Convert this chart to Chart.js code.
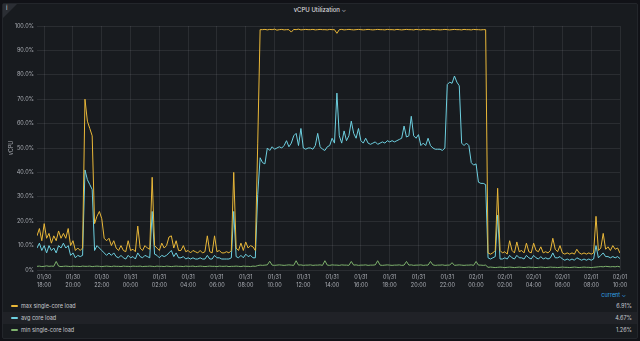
<!DOCTYPE html>
<html>
<head>
<meta charset="utf-8">
<script src="https://cdn.jsdelivr.net/npm/chart.js@4.4.1/dist/chart.umd.min.js"></script>
<style>
  html, body { margin: 0; padding: 0; width: 640px; height: 341px; overflow: hidden;
    background: #111217; font-family: Inter, "Noto Sans", sans-serif; }
  #panel { position: absolute; left: 2px; top: 3px; width: 634px; height: 334px;
    background: #181b1f; border: 1px solid #23262b; border-radius: 2px; }
  #corner { position: absolute; left: 3px; top: 4px; width: 0; height: 0;
    border-top: 14px solid #2b2e34; border-right: 14px solid transparent; }
  #corner-i { position: absolute; left: 6px; top: 4px; font-size: 6px; color: #d8d9dc; }
  #title { position: absolute; left: 0; top: 6px; width: 640px; text-align: center;
    font-size: 6px; font-weight: 500; color: #d8d9dc; }
  #title span { color: #9fa2a8; font-size: 6px; }
  #wrap { position: absolute; left: 0; top: 0; width: 640px; height: 292px; }
  #legend-head { position: absolute; right: 14px; top: 292px; font-size: 5.5px; color: #33a2e5; }
  .row { position: absolute; left: 3px; width: 634px; height: 12px; font-size: 5.5px;
    color: #c7c9ce; line-height: 12px; }
  .row.alt { background: #202227; }
  .sw { position: absolute; left: 8px; top: 5px; width: 7px; height: 2px; border-radius: 1px; }
  .name { position: absolute; left: 18px; }
  .val { position: absolute; right: 5px; }
</style>
</head>
<body>
<div id="panel"></div>
<div id="corner"></div>
<div id="corner-i">i</div>
<div id="title">vCPU Utilization <span>&#8964;</span></div>
<div id="wrap"><canvas id="chart" width="640" height="292"></canvas></div>
<div id="legend-head">current &#8964;</div>
<div id="legend"></div>
<script>
// 10-minute samples, starting 01/30 17:30 (hours since 01/30 00:00)
const START_HOUR = 17.5;
const STEP_HOURS = 1 / 6;

const SERIES_NAMES = ["max single-core load", "avg core load", "min single-core load"];
const SERIES_COLORS = ["#EAB839", "#6ED0E0", "#7EB26D"];

const MAX_LOAD = [
  14, 17, 12, 19, 13, 15,   11, 14, 12, 16, 13, 15,   13, 17, 10, 12, 8, 9,
  8, 9, 70, 61, 58, 55,     19, 22, 24, 21, 13, 12,   13, 10, 12, 9, 8, 10,
  8, 7.5, 12, 8, 8.5, 7.5,  18, 9, 8, 10, 9, 8.5,     38, 10, 9, 8, 11, 9,
  10, 13.5, 14, 9, 12, 8,   8, 10, 7.5, 8, 7, 8,      7.5, 7, 8, 7, 7.5, 14,
  7.5, 7, 14, 7.5, 8, 7,    7, 7.5, 7, 8, 40, 9,      8, 11, 8, 11.5, 9, 10,
  9.5, 8, 52, 98.5, 98.5, 98.6,
  98.4, 98.6, 98.5, 98.7, 98.3, 98.5,   98.6, 98.4, 98.5, 98.5, 97.5, 98.6,
  98.5, 98.7, 98.4, 98.5, 98.6, 98.5,   98.5, 98.6, 98.4, 98.5, 98.6, 98.5,
  98.5, 98.4, 98.6, 98.5, 98.5, 97,     98.5, 98.6, 98.4, 98.5, 98.6, 98.5,
  98.4, 98.5, 98.6, 98.5, 98.4, 98.5,   98.6, 98.5, 98.4, 98.5, 98.6, 98.5,
  98.5, 98.4, 98.6, 98.5, 98.5, 98.4,   98.6, 98.5, 98.4, 98.5, 98.6, 98.5,
  98.5, 98.4, 98.6, 98.5, 98.4, 98.6,   98.5, 98.5, 98.4, 98.6, 98.5, 98.5,
  98.4, 98.5, 98.6, 98.5, 98.4, 98.5,   98.6, 98.5, 98.5, 98.4, 98.6, 98.5,
  98.5, 98.4, 98.6, 98.5, 98.5, 98.4,
  98.5, 98.5, 7, 6.5, 7, 8,   33.5, 8, 7, 7.5, 6.5, 12,   8, 7, 11.5, 7.5, 8, 7,
  11, 7.5, 7, 11, 8, 7.5,     9.5, 7, 7.5, 7, 8, 13,      8.5, 7.5, 10, 7, 6.5, 7,
  6.5, 7, 6.5, 8.5, 7, 6.5,   7, 6.5, 7, 6.5, 7, 22,      8, 9, 15, 8.5, 9.5, 8,
  10, 8.5, 9, 6.91
];

const AVG_LOAD = [
  9, 11, 8, 10, 7, 10,      8, 9, 7, 10, 9, 11,       9, 10, 6, 7, 5, 6,
  5.5, 6, 41, 37, 35, 33,   8, 10, 9, 8, 7, 6,        7, 6, 7, 5.5, 5, 6,
  5, 4.5, 6, 5, 5.5, 4.5,   7, 5.5, 5, 6, 5.5, 5,     24, 6.5, 6, 5, 6, 5.5,
  6, 7, 8, 5.5, 7, 5,       5, 5.5, 4.5, 5, 4.5, 5,   4.5, 4.5, 5, 4.5, 4.5, 6,
  4.5, 4.5, 6, 5, 5, 4.5,   4.5, 4.5, 4.5, 5, 24, 5.5,  5, 6, 5, 6.5, 5.5, 6,
  5, 5, 31, 46, 44, 43.5,
  50, 49, 50.5, 49.5, 50, 50.5,   50, 51, 53, 50.5, 52, 55,
  56, 51, 58, 50, 49.5, 50,       50, 49.5, 51, 56, 50.5, 49.5,
  49, 50.5, 51, 54, 52, 72.5,     55, 52, 57, 53, 55, 61,
  56, 54, 58, 53, 52, 54,         52, 51.5, 52, 52.5, 51.5, 52,
  52.5, 52, 53, 52.5, 53, 52.5,   53, 53.5, 54, 59, 54.5, 55,
  63, 55, 54, 55.5, 51, 52,       51, 54, 51, 50, 49.5, 49.5,
  49.5, 49, 50, 76, 77, 76.5,     79.5, 77, 75.5, 52, 51, 52,
  51, 44, 43, 43.5, 36, 35.5,
  35.5, 35, 5, 4.5, 5, 5.5,   22.5, 4.5, 4.5, 5, 4.5, 6,   5, 4.5, 6, 5, 5, 4.5,
  6, 5, 4.5, 6, 5, 4.5,       5.5, 4.5, 5, 4.5, 5, 7,      5, 5, 5.5, 4.5, 4, 4.5,
  4, 4.5, 4, 5, 4.5, 4,       4.5, 4, 4.5, 4, 4.5, 10,     5, 6, 7, 5.5, 5.5, 5,
  5.5, 5, 5.5, 4.67
];

const MIN_LOAD = [
  1.5, 1.6, 1.4, 1.5, 1.7, 1.5,   1.6, 1.5, 3.5, 1.6, 1.4, 1.5,   1.6, 1.5, 1.4, 1.6, 1.5, 1.5,
  1.4, 1.6, 1.5, 1.5, 1.6, 1.4,   1.5, 1.6, 1.5, 1.4, 1.5, 1.6,   1.5, 1.4, 1.6, 1.5, 1.5, 1.4,
  1.6, 1.5, 1.5, 1.4, 1.6, 1.5,   1.5, 1.6, 1.4, 1.5, 1.5, 1.6,   1.5, 1.4, 1.6, 1.5, 1.5, 1.4,
  1.6, 1.5, 1.4, 1.5, 1.6, 1.5,   1.5, 1.4, 1.6, 1.5, 1.5, 1.6,   1.4, 1.5, 1.6, 1.5, 1.4, 1.5,
  1.6, 1.5, 1.5, 1.4, 1.6, 1.5,   1.5, 1.6, 1.4, 1.5, 1.5, 1.6,   1.5, 1.4, 1.6, 1.5, 1.5, 1.4,
  1.6, 1.5, 1.8, 2.0, 1.9, 2.0,
  2.1, 3.6, 2.0, 1.9, 2.0, 2.1,   2.0, 1.9, 2.0, 2.1, 2.0, 1.9,
  3.8, 2.0, 2.1, 1.9, 2.0, 2.0,   2.1, 1.9, 2.0, 2.0, 2.1, 1.9,
  3.8, 2.0, 1.9, 2.1, 2.0, 2.0,   1.9, 2.1, 2.0, 2.0, 1.9, 3.5,
  2.0, 2.1, 1.9, 2.0, 2.0, 2.1,   1.9, 2.0, 2.0, 2.1, 3.8, 2.0,
  1.9, 2.0, 2.1, 2.0, 1.9, 2.0,   2.0, 2.1, 1.9, 2.0, 3.5, 2.0,
  2.1, 1.9, 2.0, 2.0, 2.1, 1.9,   2.0, 2.0, 3.5, 2.1, 1.9, 2.0,
  2.0, 2.1, 1.9, 2.0, 2.0, 3.0,   1.9, 2.0, 2.1, 2.0, 1.9, 2.0,
  2.0, 2.1, 1.9, 3.5, 2.0, 2.0,
  1.9, 2.0, 1.1, 1.2, 1.1, 1.0,   1.1, 1.2, 1.1, 1.0, 1.1, 1.2,   1.1, 1.0, 1.1, 1.2, 1.1, 1.0,
  1.1, 1.2, 1.1, 1.1, 1.0, 1.1,   1.2, 1.1, 1.0, 1.1, 1.2, 1.1,   1.1, 1.0, 1.1, 1.2, 1.1, 1.1,
  1.0, 1.1, 1.2, 1.1, 1.0, 1.1,   1.2, 1.1, 1.1, 1.0, 1.1, 1.2,   1.3, 1.4, 1.3, 1.5, 1.4, 1.3,
  1.4, 1.3, 1.5, 1.26
];

// x-axis ticks every 2 hours
const X_TICK_HOURS = [18, 20, 22, 24, 26, 28, 30, 32, 34, 36, 38, 40, 42, 44, 46, 48, 50, 52, 54, 56, 58];
const X_TICK_DATES = ["01/30", "01/30", "01/30", "01/31", "01/31", "01/31", "01/31", "01/31", "01/31", "01/31", "01/31",
  "01/31", "01/31", "01/31", "01/31", "02/01", "02/01", "02/01", "02/01", "02/01", "02/01"];
const X_TICK_TIMES = ["18:00", "20:00", "22:00", "00:00", "02:00", "04:00", "06:00", "08:00", "10:00", "12:00", "14:00",
  "16:00", "18:00", "20:00", "22:00", "00:00", "02:00", "04:00", "06:00", "08:00", "10:00"];

const TEXT = "#a9acb3";
const GRID = "rgba(204,204,220,0.1)";

function toPoints(values) {
  return values.map((y, i) => ({ x: START_HOUR + i * STEP_HOURS, y }));
}

const seriesValues = [MAX_LOAD, AVG_LOAD, MIN_LOAD];

new Chart(document.getElementById("chart"), {
  type: "line",
  data: {
    datasets: seriesValues.map((vals, k) => ({
      label: SERIES_NAMES[k],
      data: toPoints(vals),
      borderColor: SERIES_COLORS[k],
      borderWidth: 1,
      pointRadius: 0,
      tension: 0,
      fill: false
    }))
  },
  options: {
    responsive: false,
    animation: false,
    devicePixelRatio: 1,
    layout: { padding: { left: 0, right: 20, top: 26, bottom: 0 } },
    plugins: { legend: { display: false }, tooltip: { enabled: false } },
    scales: {
      x: {
        type: "linear", min: 17.5, max: 58,
        afterBuildTicks: s => { s.ticks = X_TICK_HOURS.map(v => ({ value: v })); },
        afterFit: s => { s.height = 22; },
        ticks: {
          color: TEXT, font: { family: "Inter", size: 5.5, lineHeight: 1.45 },
          padding: 3, maxRotation: 0, autoSkip: false,
          callback: (v, i) => [X_TICK_DATES[i], X_TICK_TIMES[i]]
        },
        grid: { color: GRID, drawTicks: false },
        border: { display: false }
      },
      y: {
        min: 0, max: 100,
        afterFit: s => { s.width = 37; },
        ticks: {
          stepSize: 10, color: TEXT, font: { family: "Inter", size: 5.5 }, padding: 3,
          callback: v => v === 0 ? "0%" : v.toFixed(1) + "%"
        },
        title: { display: true, text: "vCPU", color: TEXT, font: { family: "Inter", size: 5.5 },
          padding: { top: 8, bottom: 0 } },
        grid: { color: GRID, drawTicks: false },
        border: { display: false }
      }
    }
  }
});

// legend table
const legend = document.getElementById("legend");
SERIES_NAMES.forEach((name, k) => {
  const vals = seriesValues[k];
  const row = document.createElement("div");
  row.className = "row" + (k === 1 ? " alt" : "");
  row.style.top = (300 + k * 12) + "px";
  row.innerHTML = '<div class="sw" style="background:' + SERIES_COLORS[k] + '"></div>' +
    '<div class="name">' + name + '</div>' +
    '<div class="val">' + vals[vals.length - 1].toFixed(2) + '%</div>';
  legend.appendChild(row);
});
</script>
</body>
</html>
